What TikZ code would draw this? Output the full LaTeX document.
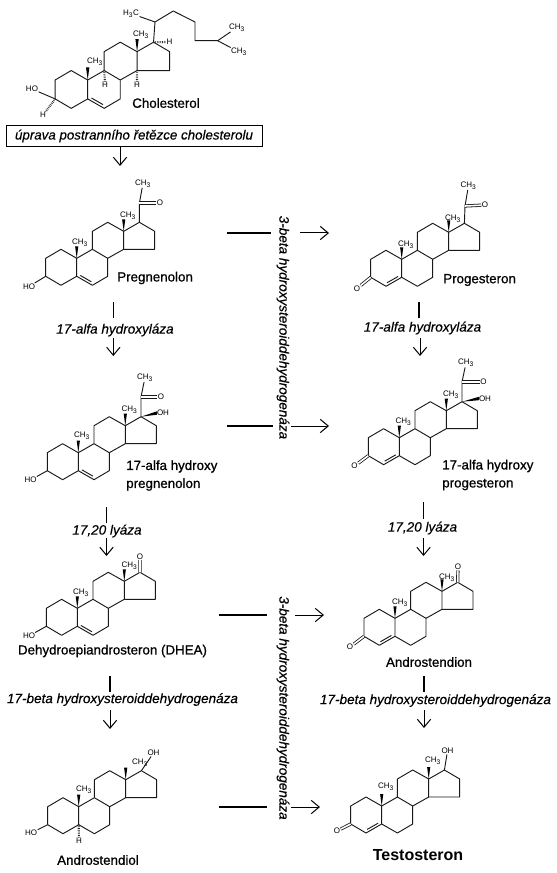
\documentclass[tikz,border=0pt]{standalone}
\usepackage{fontspec}
\setmainfont{Liberation Sans}
\newfontfamily\molfont[FakeBold=0.8]{Liberation Sans}
\newfontfamily\enzfont[FakeBold=0.3]{Liberation Sans Italic}
\usepackage{tikz}
\usetikzlibrary{arrows.meta}
\tikzset{
  bond/.style={line width=0.7pt, black!90},
  wedgebond/.style={fill=black, draw=none},
  hashbond/.style={line width=1.6pt, black!85, dash pattern=on 0.5pt off 0.8pt},
  dblbond/.style={line width=0.6pt, black!90, double, double distance=1.2pt},
  atom/.style={inner sep=0.3pt, font=\fontsize{6}{6.5}\selectfont, black},
  molname/.style={inner sep=0pt, align=left, font=\fontsize{10}{13.5}\molfont},
  enzyme/.style={inner sep=0pt, font=\fontsize{10.15}{12}\enzfont},
  stepline/.style={line width=1pt},
  steparrow/.style={line width=0.75pt, -{Straight Barb[length=6pt, width=10pt]}},
  steroid/.pic={
    \foreach \n/\px/\py in {c1/-15.7/-9, c2/-31/0, c3/-31/18, c4/-15.7/27, c5/0/18,
      c6/15.7/27, c7/31/18, c8/31/0, c9/15.7/-9, c10/0/0, c11/15.7/-27, c12/31/-36,
      c13/47/-27, c14/47/-9, c15/78/-9, c16/78/-27, c17/62.7/-36}
      \coordinate (-\n) at (\px,\py);
    \draw[bond, line join=round] (-c10) -- (-c1) -- (-c2) -- (-c3) -- (-c4) -- (-c5) -- (-c6)
      -- (-c7) -- (-c8) -- (-c9) -- (-c10) -- (-c5);
    \draw[bond, line join=round] (-c9) -- (-c11) -- (-c12) -- (-c13) -- (-c14) -- (-c8);
    \draw[bond, line join=round] (-c14) -- (-c15) -- (-c16) -- (-c17) -- (-c13);
    % methyl wedges
    \fill[wedgebond] (-c10) -- (-1.6,-12) -- (1.6,-12) -- cycle;
    \fill[wedgebond] (-c13) -- (45.4,-39) -- (48.6,-39) -- cycle;
  },
  enebond/.pic={\draw[bond] (3.6,17.15) -- (14.6,23.45);},
  enonebond/.pic={\draw[bond] (-14.6,23.45) -- (-3.6,17.15);}
}

\begin{document}
\begin{tikzpicture}[x=0.75pt, y=-0.75pt]
\useasboundingbox (0,0) rectangle (556,873);
\fill[white] (0,0) rectangle (556,873);

% cholesterol
\pic[scale=1.05] (chol) at (87.7,80) {steroid};
\pic[scale=1.05] at (87.7,80) {enebond};
\node[atom] (cholho) at (32,89) {HO};
\node[atom] (cholh) at (43,115) {H};
\node[atom] (cholme) at (95,62) {CH\textsubscript{3}};
\node[atom] (cholmf) at (141,35) {CH\textsubscript{3}};
\node[atom] (cholhn) at (105,85) {H};
\node[atom] (cholhe) at (137,85) {H};
\node[atom] (cholhq) at (169.5,42) {H};
\node[atom] (cholmg) at (131,13.5) {H\textsubscript{3}C};
\node[atom] (cholmh) at (237,27.5) {CH\textsubscript{3}};
\node[atom] (cholmi) at (239,52) {CH\textsubscript{3}};
\coordinate (chola) at (155,22);
\coordinate (cholb) at (173.3,11);
\coordinate (cholc) at (195,22);
\coordinate (chold) at (195,40.7);
\coordinate (chole) at (217.7,40.7);
\draw[bond] (chol-c3) -- (cholho);
\draw[hashbond] (chol-c3) -- (cholh);
\draw[hashbond] (chol-c9) -- (cholhn);
\draw[hashbond] (chol-c14) -- (cholhe);
\draw[hashbond] (chol-c17) -- (cholhq);
\draw[bond, line join=round] (chol-c17) -- (chola) -- (cholb) -- (cholc) -- (chold) -- (chole) -- (cholmh);
\draw[bond] (chola) -- (cholmg);
\draw[bond] (chole) -- (cholmi);
\node[molname, anchor=west] (cholname) at (132,103) {Cholesterol};
\node[draw, line width=0.7pt, minimum width=192pt, minimum height=16pt, inner sep=0pt,
  font=\fontsize{10}{12}\enzfont] (cholbox) at (134,136) {úprava postranního řetězce cholesterolu};
\coordinate (cholout) at (120,166);
\draw[steparrow] (cholout |- cholbox.south) -- (cholout);

% pregnenolon
\pic (preg) at (76.7,258.3) {steroid};
\pic at (76.7,258.3) {enebond};
\node[atom] (pregho) at (29,286.5) {HO};
\node[atom] (pregme) at (80,243) {CH\textsubscript{3}};
\node[atom] (pregmf) at (128,216) {CH\textsubscript{3}};
\node[atom] (pregmg) at (143,183.5) {CH\textsubscript{3}};
\node[atom] (prego) at (160,203) {O};
\coordinate (prega) at (139.4,203);
\draw[bond] (preg-c3) -- (pregho);
\draw[bond] (preg-c17) -- (prega) -- (pregmg);
\draw[dblbond] (prega) -- (prego);
\node[molname, anchor=west] (pregname) at (117,278) {Pregnenolon};

% progesteron
\pic (prog) at (401.7,259.3) {steroid};
\pic at (401.7,259.3) {enonebond};
\node[atom] (progo) at (357,288.5) {O};
\node[atom] (progme) at (406,245) {CH\textsubscript{3}};
\node[atom] (progmf) at (453,218.5) {CH\textsubscript{3}};
\node[atom] (progmg) at (468.5,185.5) {CH\textsubscript{3}};
\node[atom] (progoo) at (485,205) {O};
\coordinate (proga) at (465,206);
\draw[dblbond] (prog-c3) -- (progo);
\draw[bond] (prog-c17) -- (proga) -- (progmg);
\draw[dblbond] (proga) -- (progoo);
\node[molname, anchor=west] (progname) at (443,280) {Progesteron};

% 17-alfa hydroxy pregnenolon
\pic (hpre) at (78.3,452.7) {steroid};
\pic at (78.3,452.7) {enebond};
\node[atom] (hpreho) at (30.5,480) {HO};
\node[atom] (hpreme) at (82,436) {CH\textsubscript{3}};
\node[atom] (hpremf) at (129.5,410) {CH\textsubscript{3}};
\node[atom] (hpremg) at (145,377.5) {CH\textsubscript{3}};
\node[atom] (hpreoo) at (161,397) {O};
\node[atom] (hpreoh) at (163,413) {OH};
\coordinate (hprea) at (141,397);
\draw[bond] (hpre-c3) -- (hpreho);
\draw[bond] (hpre-c17) -- (hprea) -- (hpremg);
\draw[dblbond] (hprea) -- (hpreoo);
\fill[wedgebond] (hpre-c17) -- (157,411.3) -- (157,414.7) -- cycle;
\node[molname, anchor=west] (hprename) at (126,475.5) {17-alfa hydroxy\\pregnenolon};

% 17-alfa hydroxy progesteron
\pic (hpro) at (399.3,437.7) {steroid};
\pic at (399.3,437.7) {enonebond};
\node[atom] (hproo) at (354.5,466) {O};
\node[atom] (hprome) at (403.5,422) {CH\textsubscript{3}};
\node[atom] (hpromf) at (451,395) {CH\textsubscript{3}};
\node[atom] (hpromg) at (466,363) {CH\textsubscript{3}};
\node[atom] (hprooo) at (483.5,382) {O};
\node[atom] (hprooh) at (485,398.5) {OH};
\coordinate (hproa) at (462,382);
\draw[dblbond] (hpro-c3) -- (hproo);
\draw[bond] (hpro-c17) -- (hproa) -- (hpromg);
\draw[dblbond] (hproa) -- (hprooo);
\fill[wedgebond] (hpro-c17) -- (479,396.8) -- (479,400.2) -- cycle;
\node[molname, anchor=west] (hproname) at (442,475) {17-alfa hydroxy\\progesteron};

% dehydroepiandrosteron
\pic (dhea) at (77.3,608.3) {steroid};
\pic at (77.3,608.3) {enebond};
\node[atom] (dheaho) at (29,636) {HO};
\node[atom] (dheame) at (81,592.5) {CH\textsubscript{3}};
\node[atom] (dheamf) at (129.5,566) {CH\textsubscript{3}};
\node[atom] (dheao) at (140,556.5) {O};
\draw[bond] (dhea-c3) -- (dheaho);
\draw[dblbond] (dhea-c17) -- (dheao);
\node[molname] (dheaname) at (112.5,651) {Dehydroepiandrosteron (DHEA)};

% androstendion
\pic (ands) at (395,618.3) {steroid};
\pic at (395,618.3) {enonebond};
\node[atom] (andso) at (350,647) {O};
\node[atom] (andsme) at (400,602.5) {CH\textsubscript{3}};
\node[atom] (andsmf) at (447,578) {CH\textsubscript{3}};
\node[atom] (andsoo) at (458,567) {O};
\draw[dblbond] (ands-c3) -- (andso);
\draw[dblbond] (ands-c17) -- (andsoo);
\node[molname] (andsname) at (429,662) {Androstendion};

% androstendiol
\pic (andl) at (78.7,806.7) {steroid};
\node[atom] (andlho) at (31,833) {HO};
\node[atom] (andlme) at (84,790) {CH\textsubscript{3}};
\node[atom] (andlmf) at (140,763) {CH\textsubscript{3}};
\node[atom] (andloh) at (153.5,753) {OH};
\node[atom] (andlh) at (79,841) {H};
\draw[bond] (andl-c3) -- (andlho);
\draw[hashbond] (andl-c5) -- (andlh);
\draw[bond] (andl-c17) -- (andloh);
\node[molname] (andlname) at (98,860) {Androstendiol};

% testosteron
\pic (test) at (381.7,806) {steroid};
\pic at (381.7,806) {enonebond};
\node[atom] (testo) at (337,831) {O};
\node[atom] (testme) at (386,787) {CH\textsubscript{3}};
\node[atom] (testmf) at (433,761) {CH\textsubscript{3}};
\node[atom] (testoh) at (447.5,751) {OH};
\draw[dblbond] (test-c3) -- (testo);
\draw[bond] (test-c17) -- (testoh);
\node[molname, font=\fontsize{12}{14}\selectfont\bfseries] (testname) at (418,855) {Testosteron};

% enzymes of the left column
\node[enzyme] (hydl) at (115,330) {17-alfa hydroxyláza};
\coordinate (hydla) at (113.3,302);
\coordinate (hydlb) at (113.3,318);
\coordinate (hydlc) at (113.3,338);
\coordinate (hydld) at (113.3,356);
\draw[stepline] (hydla) -- (hydlb);
\draw[steparrow] (hydlc) -- (hydld);
\node[enzyme] (lyal) at (107,531) {17,20 lyáza};
\coordinate (lyala) at (106.5,507);
\coordinate (lyalb) at (106.5,523);
\coordinate (lyalc) at (106.5,538);
\coordinate (lyald) at (106.5,556);
\draw[stepline] (lyala) -- (lyalb);
\draw[steparrow] (lyalc) -- (lyald);
\node[enzyme] (hsdl) at (122.5,699.5) {17-beta hydroxysteroiddehydrogenáza};
\coordinate (hsdla) at (110,676);
\coordinate (hsdlb) at (110,692);
\coordinate (hsdlc) at (110,710);
\coordinate (hsdld) at (110,729);
\draw[stepline] (hsdla) -- (hsdlb);
\draw[steparrow] (hsdlc) -- (hsdld);

% enzymes of the right column
\node[enzyme] (hydr) at (422.5,328) {17-alfa hydroxyláza};
\coordinate (hydra) at (419,302);
\coordinate (hydrb) at (419,318);
\coordinate (hydrc) at (420,338);
\coordinate (hydrd) at (420,356);
\draw[stepline] (hydra) -- (hydrb);
\draw[steparrow] (hydrc) -- (hydrd);
\node[enzyme] (lyar) at (422.5,528) {17,20 lyáza};
\coordinate (lyara) at (423.5,502);
\coordinate (lyarb) at (423.5,519);
\coordinate (lyarc) at (423.5,538);
\coordinate (lyard) at (423.5,556);
\draw[stepline] (lyara) -- (lyarb);
\draw[steparrow] (lyarc) -- (lyard);
\node[enzyme] (hsdr) at (435.5,700.5) {17-beta hydroxysteroiddehydrogenáza};
\coordinate (hsdra) at (424,676);
\coordinate (hsdrb) at (424,692);
\coordinate (hsdrc) at (424,710);
\coordinate (hsdrd) at (424,728);
\draw[stepline] (hsdra) -- (hsdrb);
\draw[steparrow] (hsdrc) -- (hsdrd);

% 3-beta steps across the middle
\node[enzyme, rotate=-90] (hsdu) at (283,327.5) {3-beta hydroxysteroiddehydrogenáza};
\node[enzyme, rotate=-90] (hsdv) at (283,708) {3-beta hydroxysteroiddehydrogenáza};
\foreach \n/\xa/\xb/\xc/\xd/\yy in {ua/227/271/300/329/233, ub/227/273/291/329/426,
    uc/219/267/295/324/615, ud/219/267/291/320/807} {
  \coordinate (\n a) at (\xa,\yy);
  \coordinate (\n b) at (\xb,\yy);
  \coordinate (\n c) at (\xc,\yy);
  \coordinate (\n d) at (\xd,\yy);
  \draw[stepline] (\n a) -- (\n b);
  \draw[steparrow] (\n c) -- (\n d);
}
\end{tikzpicture}
\end{document}
